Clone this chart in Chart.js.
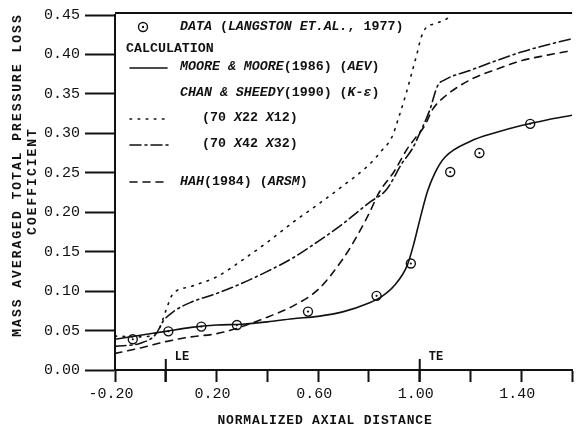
<!DOCTYPE html>
<html>
<head>
<meta charset="utf-8">
<script src="https://cdn.jsdelivr.net/npm/chart.js@4"></script>
<style>
body { margin: 0; background: #fff; }
#wrap { width: 578px; height: 429px; }
</style>
</head>
<body>
<div id="wrap"><canvas id="loss"></canvas></div>
<script>
// measured points (Langston et al., 1977)
const dataX = [-0.13, 0.01, 0.14, 0.28, 0.56, 0.83, 0.965, 1.12, 1.235, 1.435]
const dataY = [0.039, 0.049, 0.055, 0.057, 0.074, 0.094, 0.135, 0.251, 0.275, 0.312]

// Moore & Moore (1986) (AEV)
const mooreX = [-0.2, -0.1, 0.0, 0.1, 0.2, 0.3, 0.4, 0.5, 0.6, 0.7, 0.8, 0.85, 0.9, 0.95, 0.975, 1.0, 1.03, 1.06, 1.1, 1.2, 1.3, 1.4, 1.5, 1.6]
const mooreY = [0.039, 0.044, 0.049, 0.054, 0.057, 0.058, 0.061, 0.065, 0.068, 0.074, 0.085, 0.093, 0.107, 0.132, 0.158, 0.19, 0.226, 0.25, 0.27, 0.29, 0.301, 0.31, 0.317, 0.323]

// Chan & Sheedy (1990) (70x22x12)
const coarseX = [-0.2, -0.1, -0.03, 0.0, 0.025, 0.1, 0.2, 0.3, 0.4, 0.5, 0.6, 0.7, 0.8, 0.85, 0.89, 0.92, 0.945, 0.965, 0.99, 1.005, 1.025, 1.06, 1.1, 1.13]
const coarseY = [0.043, 0.042, 0.05, 0.075, 0.095, 0.106, 0.118, 0.139, 0.162, 0.187, 0.21, 0.234, 0.26, 0.278, 0.295, 0.323, 0.349, 0.372, 0.402, 0.421, 0.434, 0.439, 0.444, 0.45]

// Chan & Sheedy (1990) (70x42x32)
const fineX = [-0.2, -0.1, -0.04, -0.01, 0.03, 0.1, 0.2, 0.3, 0.4, 0.5, 0.6, 0.7, 0.8, 0.87, 0.93, 0.97, 1.0, 1.04, 1.07, 1.1, 1.2, 1.3, 1.4, 1.5, 1.6]
const fineY = [0.03, 0.034, 0.045, 0.062, 0.074, 0.086, 0.097, 0.11, 0.125, 0.142, 0.163, 0.186, 0.212, 0.229, 0.262, 0.28, 0.3, 0.33, 0.36, 0.368, 0.38, 0.392, 0.403, 0.412, 0.42]

// Hah (1984) (ARSM)
const hahX = [-0.2, -0.1, 0.0, 0.1, 0.2, 0.3, 0.4, 0.5, 0.6, 0.7, 0.75, 0.8, 0.84, 0.9, 0.95, 0.98, 1.02, 1.05, 1.1, 1.2, 1.3, 1.4, 1.5, 1.6]
const hahY = [0.021, 0.028, 0.036, 0.042, 0.046, 0.055, 0.067, 0.081, 0.102, 0.142, 0.168, 0.198, 0.225, 0.252, 0.28, 0.293, 0.31, 0.33, 0.347, 0.368, 0.381, 0.392, 0.399, 0.405]

const yTicks = [0, 0.05, 0.1, 0.15, 0.2, 0.25, 0.3, 0.35, 0.4, 0.45]
const xLabelled = [-0.2, 0.2, 0.6, 1.0, 1.4]
const marks = [[0.0, 'LE'], [1.0, 'TE']]

const ink = '#111'
const monoFont = '"Liberation Mono", "DejaVu Sans Mono", monospace'
const styles = {
  moore: [],
  coarse: [1.6, 6.5],
  fine: [11, 4, 2, 4],
  hah: [7, 6]
}

function pairs(xs, ys) {
  return xs.map((x, i) => ({ x: x, y: ys[i] }))
}

function curve(label, xs, ys, dash) {
  return {
    label: label,
    data: pairs(xs, ys),
    showLine: true,
    borderColor: ink,
    borderWidth: 1.6,
    borderDash: dash,
    borderCapStyle: 'round',
    cubicInterpolationMode: 'monotone',
    pointRadius: 0,
    fill: false
  }
}

function drawRuns(ctx, runs, x, y) {
  for (const r of runs) {
    ctx.font = (r[1] ? 'italic ' : '') + 'bold 13.3px ' + monoFont
    ctx.fillText(r[0], x, y)
    x += ctx.measureText(r[0]).width
  }
}

function sample(ctx, x1, x2, y, dash) {
  ctx.save()
  ctx.setLineDash(dash)
  ctx.lineCap = 'round'
  ctx.lineWidth = 1.6
  ctx.beginPath()
  ctx.moveTo(x1, y)
  ctx.lineTo(x2, y)
  ctx.stroke()
  ctx.restore()
}

const decor = {
  id: 'decor',
  afterDraw(chart) {
    const ctx = chart.ctx
    const area = chart.chartArea
    const xs = chart.scales.x
    ctx.save()
    ctx.strokeStyle = ink
    ctx.fillStyle = ink
    ctx.textBaseline = 'middle'

    // frame top
    ctx.lineWidth = 2
    ctx.beginPath()
    ctx.moveTo(area.left, area.top - 2)
    ctx.lineTo(area.right, area.top - 2)
    ctx.stroke()

    // LE / TE marks
    for (const m of marks) {
      const px = xs.getPixelForValue(m[0])
      ctx.lineWidth = 2
      ctx.beginPath()
      ctx.moveTo(px, area.bottom - 11)
      ctx.lineTo(px, area.bottom + 12)
      ctx.stroke()
      ctx.font = 'bold 12px ' + monoFont
      ctx.fillText(m[1], px + 9, area.bottom - 13)
    }

    // legend
    ctx.lineWidth = 1.4
    ctx.beginPath()
    ctx.arc(143, 27, 4.5, 0, Math.PI * 2)
    ctx.stroke()
    ctx.beginPath()
    ctx.arc(143, 27, 1.2, 0, Math.PI * 2)
    ctx.fill()
    drawRuns(ctx, [['DATA', 1], [' (', 0], ['LANGSTON ET.AL.', 1], [', 1977)', 0]], 180, 27)
    drawRuns(ctx, [['CALCULATION', 0]], 126, 49)
    sample(ctx, 130, 167, 68, styles.moore)
    drawRuns(ctx, [['MOORE & MOORE', 1], ['(1986) (', 0], ['AEV', 1], [')', 0]], 180, 67)
    drawRuns(ctx, [['CHAN & SHEEDY', 1], ['(1990) (', 0], ['K-ε', 1], [')', 0]], 180, 93)
    sample(ctx, 130, 167, 119, styles.coarse)
    drawRuns(ctx, [['(70 ', 0], ['X', 1], ['22 ', 0], ['X', 1], ['12)', 0]], 202, 118)
    sample(ctx, 130, 170, 145, styles.fine)
    drawRuns(ctx, [['(70 ', 0], ['X', 1], ['42 ', 0], ['X', 1], ['32)', 0]], 202, 144)
    sample(ctx, 130, 168, 182, styles.hah)
    drawRuns(ctx, [['HAH', 1], ['(1984) (', 0], ['ARSM', 1], [')', 0]], 180, 182)

    // axis titles
    ctx.font = 'bold 13px ' + monoFont
    ctx.textAlign = 'center'
    ctx.letterSpacing = '0.8px'
    ctx.fillText('NORMALIZED AXIAL DISTANCE', 325, 421)
    ctx.letterSpacing = '2px'
    ctx.save()
    ctx.translate(18, 175)
    ctx.rotate(-Math.PI / 2)
    ctx.fillText('MASS AVERAGED TOTAL PRESSURE LOSS', 0, 0)
    ctx.restore()
    ctx.save()
    ctx.translate(33, 181)
    ctx.rotate(-Math.PI / 2)
    ctx.fillText('COEFFICIENT', 0, 0)
    ctx.restore()
    ctx.restore()
  }
}

function createChart() {
  const ctx = document.getElementById('loss').getContext('2d')
  return new Chart(ctx, {
    type: 'scatter',
    data: {
      datasets: [
        {
          label: 'DATA (LANGSTON ET.AL., 1977)',
          data: pairs(dataX, dataY),
          pointStyle: 'circle',
          pointRadius: 4.5,
          pointBorderWidth: 1.4,
          pointBorderColor: ink,
          pointBackgroundColor: 'rgba(0,0,0,0)'
        },
        {
          label: 'data centre',
          data: pairs(dataX, dataY),
          pointRadius: 1.1,
          pointBorderWidth: 0,
          pointBackgroundColor: ink
        },
        curve('MOORE & MOORE(1986) (AEV)', mooreX, mooreY, styles.moore),
        curve('CHAN & SHEEDY(1990) (K-ε) (70X22X12)', coarseX, coarseY, styles.coarse),
        curve('CHAN & SHEEDY(1990) (K-ε) (70X42X32)', fineX, fineY, styles.fine),
        curve('HAH(1984) (ARSM)', hahX, hahY, styles.hah)
      ]
    },
    options: {
      responsive: true,
      maintainAspectRatio: false,
      animation: false,
      layout: { padding: { top: 15, right: 0, left: 0, bottom: 0 } },
      plugins: {
        legend: { display: false },
        tooltip: { enabled: false }
      },
      scales: {
        x: {
          type: 'linear',
          min: -0.2,
          max: 1.6,
          afterFit(scale) { scale.height = 59 },
          border: { display: true, color: ink, width: 2 },
          grid: { drawOnChartArea: false, tickLength: 12, tickColor: ink, tickWidth: 2 },
          ticks: {
            stepSize: 0.2,
            autoSkip: false,
            maxRotation: 0,
            padding: 3,
            labelOffset: -4,
            color: ink,
            font: { family: monoFont, size: 15 },
            callback: function (v) {
              const hit = xLabelled.some(t => Math.abs(t - v) < 1e-6)
              return hit ? v.toFixed(2) : ''
            }
          }
        },
        y: {
          min: 0,
          max: 0.45,
          afterFit(scale) { scale.width = 115 },
          afterBuildTicks(scale) { scale.ticks = yTicks.map(v => ({ value: v })) },
          border: { display: true, color: ink, width: 2 },
          grid: { drawOnChartArea: false, tickLength: 30, tickColor: ink, tickWidth: 2 },
          ticks: {
            padding: 5,
            color: ink,
            font: { family: monoFont, size: 15 },
            callback: v => v.toFixed(2)
          }
        }
      }
    },
    plugins: [decor]
  })
}

createChart()
</script>
</body>
</html>
